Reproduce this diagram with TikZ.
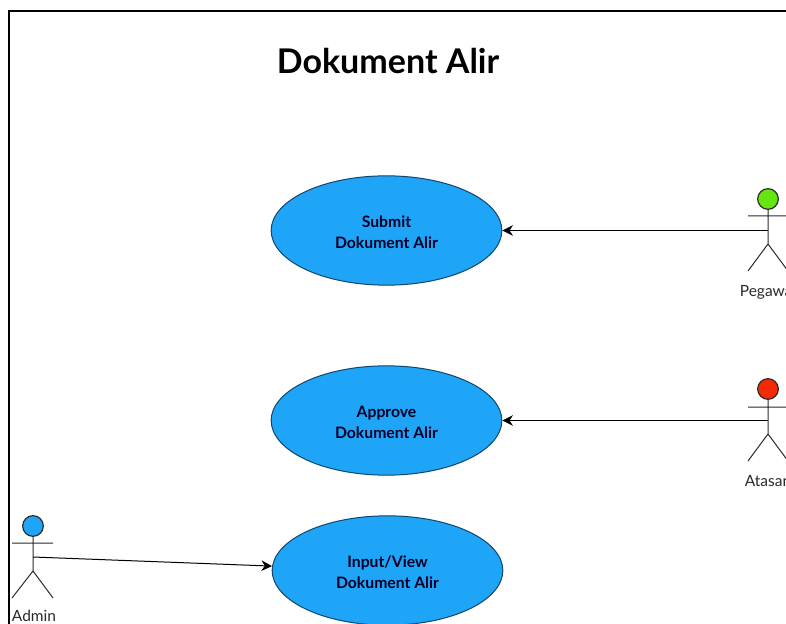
\documentclass[tikz,border=0pt]{standalone}
\usepackage{fontspec}
\setmainfont{Lato}
\usetikzlibrary{arrows.meta,shapes.geometric}
\definecolor{usecase}{HTML}{1FA5F7}
\definecolor{edgeblue}{HTML}{10456E}
\definecolor{headgreen}{HTML}{66E610}
\definecolor{headred}{HTML}{F52A05}
\definecolor{inkdark}{HTML}{2A2A2A}
\newcommand{\lowertext}{\rule{0pt}{11.6pt}}
\tikzset{
  x=0.75pt,y=-0.75pt,
  usecasebox/.style={ellipse,draw=edgeblue,line width=0.75pt,fill=usecase,minimum width=173pt,minimum height=82pt,inner sep=0pt,align=center,font=\fontsize{11.8pt}{15.75pt}\selectfont\bfseries\color{black!85!blue}},
  headnode/.style={circle,draw=inkdark,line width=0.9pt,minimum size=15.5pt,inner sep=0pt},
  limb/.style={draw=inkdark,line width=0.75pt},
  flow/.style={draw=black,line width=0.75pt,-{Stealth[length=8pt,width=8pt]}},
  actorlabel/.style={font=\fontsize{11.6pt}{13pt}\selectfont,text=inkdark,inner sep=0pt},
}
\begin{document}
\begin{tikzpicture}
\useasboundingbox (0,0) rectangle (786,624);
\clip (0,0) rectangle (786,624);
\fill[white] (0,0) rectangle (786,624);
\draw[black,line width=1.5pt] (9,624) -- (9,11) -- (786,11);
\node[font=\fontsize{25.5pt}{30pt}\selectfont\bfseries,inner sep=0pt] (title) at (388,61) {Dokument Alir};

\node[usecasebox] (submit) at (386.5,230.5) {\lowertext Submit\\Dokument Alir};
\node[usecasebox] (approve) at (386.5,420.5) {\lowertext Approve\\Dokument Alir};
\node[usecasebox] (input) at (387.5,570.5) {\lowertext Input/View\\Dokument Alir};

% Pegawai
\node[headnode,fill=headgreen] (h1) at (768,199) {};
\coordinate (p1) at (768,230.5);
\coordinate (c1) at (768,244);
\draw[limb] (h1) -- (c1) (748,216) -- (788,216) (748,271) -- (c1) -- (788,271);
\node[actorlabel] (l1) at (768,292) {Pegawai};
\draw[flow] (p1) -- (submit);

% Atasan
\node[headnode,fill=headred] (h2) at (768,389) {};
\coordinate (p2) at (768,420.5);
\coordinate (c2) at (768,434);
\draw[limb] (h2) -- (c2) (748,407) -- (788,407) (748,461) -- (c2) -- (788,461);
\node[actorlabel] (l2) at (768,481) {Atasan};
\draw[flow] (p2) -- (approve);

% Admin
\node[headnode,fill=usecase] (h3) at (33,526) {};
\coordinate (p3) at (33,557);
\coordinate (c3) at (33,571);
\draw[limb] (h3) -- (c3) (12,543) -- (53,543) (12,598) -- (c3) -- (53,598);
\node[actorlabel] (l3) at (34,616) {Admin};
\draw[flow] (p3) -- (input);
\end{tikzpicture}
\end{document}
